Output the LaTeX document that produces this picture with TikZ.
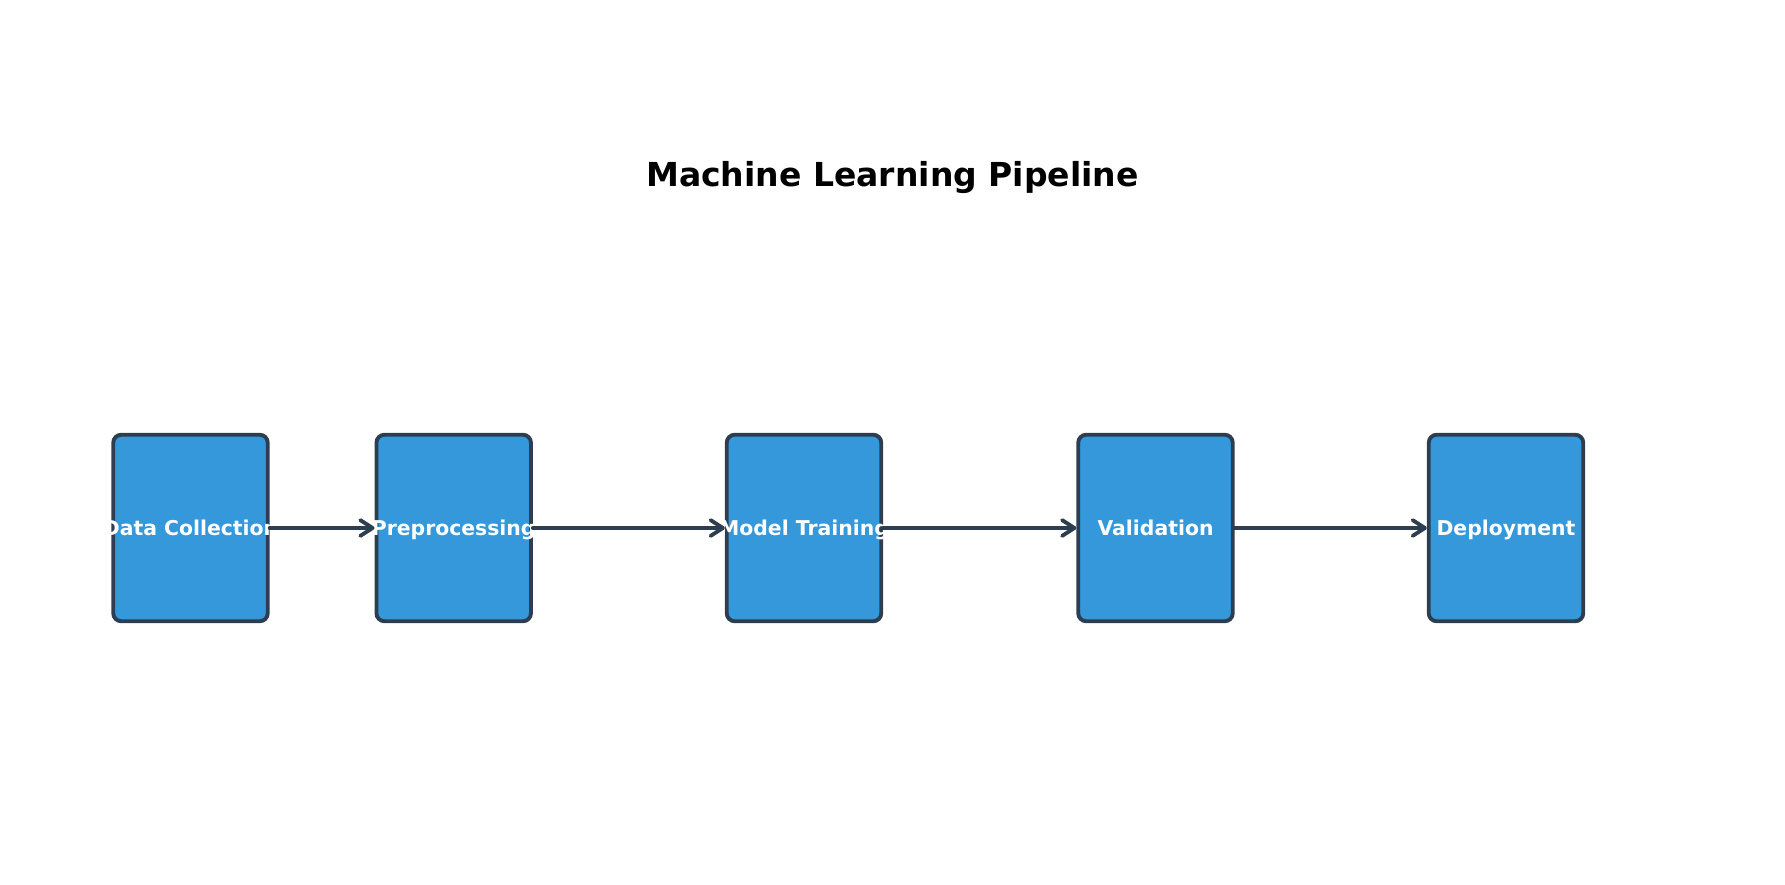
\documentclass[tikz,border=0pt]{standalone}
\usepackage{fontspec}
\setmainfont{DejaVu Sans}
\usepackage{tikz}
\usetikzlibrary{arrows.meta}
\definecolor{boxfill}{HTML}{3498DB}
\definecolor{boxline}{HTML}{2C3E50}

\begin{document}
\begin{tikzpicture}[x=0.02cm,y=-0.02cm,
  stage/.style={draw=boxline,fill=boxfill,line width=2.2pt,rounded corners=4.5pt,
    minimum width=3.09cm,minimum height=3.73cm,inner sep=0pt,
    text height=8.46pt,text depth=0pt,
    text=white,font=\fontsize{11.6}{14}\selectfont\bfseries},
  flow/.style={draw=boxline,line width=2.2pt,line cap=round,
    -{Straight Barb[length=7pt,width=9pt,line join=round,line cap=round]}}]
\useasboundingbox (0,0) rectangle (1785,885);
\node[anchor=base,font=\fontsize{18.8}{22}\selectfont\bfseries] (title) at (892.5,187) {Machine Learning Pipeline};
\node[stage] (datacol) at (190.5,528) {\makebox[0pt]{Data Collection}};
\node[stage] (prep) at (453.7,528) {\makebox[0pt]{Preprocessing}};
\node[stage] (train) at (804,528) {\makebox[0pt]{Model Training}};
\node[stage] (valid) at (1155.5,528) {\makebox[0pt]{Validation}};
\node[stage] (deploy) at (1506,528) {\makebox[0pt]{Deployment}};
\draw[flow] (datacol.east)--(prep.west);
\draw[flow] (prep.east)--(train.west);
\draw[flow] (train.east)--(valid.west);
\draw[flow] (valid.east)--(deploy.west);
\end{tikzpicture}
\end{document}
